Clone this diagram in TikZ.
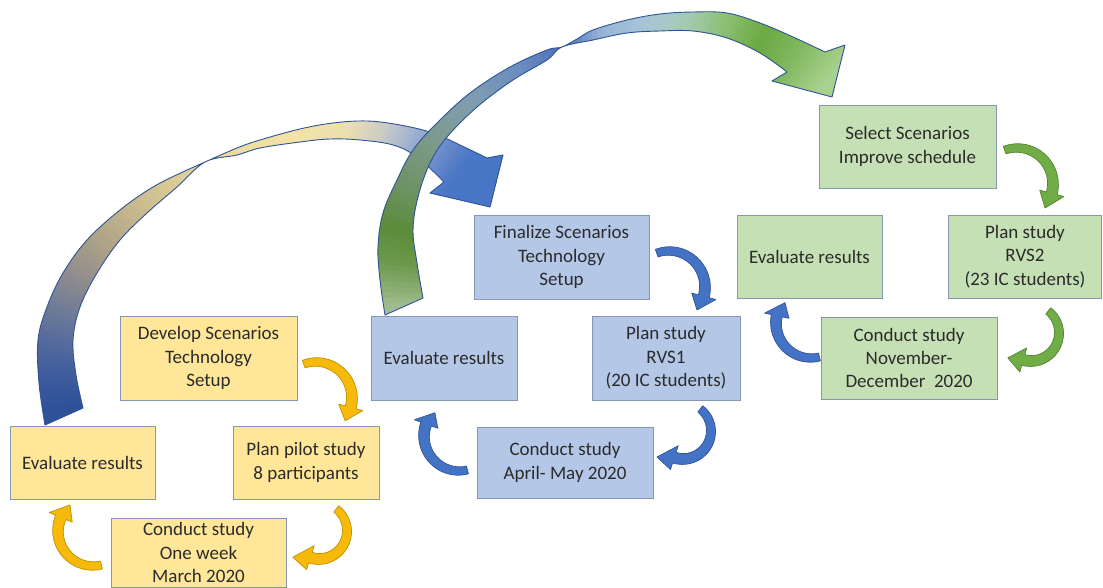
\documentclass[tikz,border=0pt]{standalone}
\usepackage{fontspec}
\setmainfont{Carlito}
\definecolor{yfill}{HTML}{FFE699}
\definecolor{bfill}{HTML}{B4C7E7}
\definecolor{gfill}{HTML}{C5E0B4}
\definecolor{boxline}{HTML}{8497B0}
\definecolor{txt}{HTML}{2B2B2B}
\definecolor{bigline}{HTML}{2F5597}
\definecolor{gold}{HTML}{F7BA0B}
\definecolor{goldd}{HTML}{BF9000}
\definecolor{blu}{HTML}{4472C4}
\definecolor{blud}{HTML}{2F5597}
\definecolor{grn}{HTML}{70AD47}
\definecolor{grnd}{HTML}{548235}
% yellow-blue big arrow stops
\definecolor{yA}{HTML}{2C4C94}\definecolor{yB}{HTML}{2F519A}\definecolor{yC}{HTML}{45609E}
\definecolor{yD}{HTML}{66769A}\definecolor{yE}{HTML}{8C8B8E}\definecolor{yF}{HTML}{ACA187}
\definecolor{yG}{HTML}{C8BA8E}\definecolor{yH}{HTML}{DFCF98}\definecolor{yI}{HTML}{EDDC9F}
\definecolor{yJ}{HTML}{F3E3A6}\definecolor{yK}{HTML}{ECE0B0}\definecolor{yL}{HTML}{CBCBC6}
\definecolor{yM}{HTML}{9FB1D0}\definecolor{yN}{HTML}{6F8FCB}\definecolor{yO}{HTML}{4A76C6}
\definecolor{yP}{HTML}{4472C4}
% green big arrow stops
\definecolor{gA}{HTML}{A9C29B}\definecolor{gB}{HTML}{A3BE92}\definecolor{gC}{HTML}{6E9A4E}
\definecolor{gD}{HTML}{5B8C3A}\definecolor{gE}{HTML}{6E9366}\definecolor{gF}{HTML}{7D9A8E}
\definecolor{gG}{HTML}{7F9DB0}\definecolor{gH}{HTML}{6A8CC0}\definecolor{gI}{HTML}{4E6FB5}
\definecolor{gJ}{HTML}{98B5D8}\definecolor{gK}{HTML}{A9C6D6}\definecolor{gL}{HTML}{A3CBB0}
\definecolor{gM}{HTML}{88BD6C}\definecolor{gN}{HTML}{6CA943}\definecolor{gO}{HTML}{7FB85E}
\definecolor{gP}{HTML}{A6CF8C}\definecolor{gQ}{HTML}{BEDCA6}

% gradient wedges around a centre: cx, cy, angle1, angle2, colour1, colour2
\newcommand\gw[6]{%
  \foreach \k in {0,...,7}{%
    \pgfmathsetmacro\wa{#3+(#4-#3)*\k/8}%
    \pgfmathsetmacro\wb{#3+(#4-#3)*(\k+1)/8+0.5}%
    \pgfmathtruncatemacro\wp{(\k+0.5)*12.5}%
    \fill[#6!\wp!#5, shift={(#1,#2)}] (0,0) -- (\wa:520) -- (\wb:520) -- cycle;%
  }%
}
% small curved block arrow: style, cx, cy, r, a1 (tail), a2 (head base), tip angle, tip radius
\newcommand\blockarc[8]{%
  \path[#1] plot[domain=#5:#6, samples=30, variable=\t]
     ({#2+(#4+4+1.6*(\t-(#5))/(#6-(#5)))*cos(\t)}, {#3+(#4+4+1.6*(\t-(#5))/(#6-(#5)))*sin(\t)})
   -- ({#2+(#4+12.5)*cos(#6)}, {#3+(#4+12.5)*sin(#6)})
   -- ({#2+#8*cos(#7)}, {#3+#8*sin(#7)})
   -- ({#2+(#4-12.5)*cos(#6)}, {#3+(#4-12.5)*sin(#6)})
   -- plot[domain=#6:#5, samples=30, variable=\t]
     ({#2+(#4-4-1.6*(\t-(#5))/(#6-(#5)))*cos(\t)}, {#3+(#4-4-1.6*(\t-(#5))/(#6-(#5)))*sin(\t)})
   -- cycle;%
}
\newcommand\ypath{(45,425) -- plot[smooth,tension=0.6] coordinates {(45,425) (39,383) (38,340) (47,307) (63,273) (87,240) (120,210) (153,187) (187,170) (205,162) (237,148) (260,140) (300,129) (333,123) (367,121) (400,125) (433,133) (462,146) (487,158)} -- (503,155) -- (490,207) -- (430,193) -- (444,182) -- plot[smooth,tension=0.6] coordinates {(444,182) (417,157) (393,145) (360,140) (330,139) (300,142) (260,148) (237,155) (205,162) (177,187) (147,213) (120,240) (97,273) (80,307) (73,340) (76,375) (83,408)} -- cycle}
\newcommand\gpath{(385,315) -- plot[smooth,tension=0.6] coordinates {(385,315) (380,280) (378,247) (383,213) (397,180) (413,150) (437,123) (470,93) (510,67) (547,50) (562,47) (577,39) (593,30) (627,20) (660,14) (693,12) (727,13) (760,23) (793,37) (825,52)} -- (845,45) -- (832,97) -- (772,81) -- (787,72) -- plot[smooth,tension=0.6] coordinates {(787,72) (760,53) (727,38) (693,31) (660,31) (627,33) (593,40) (562,47) (547,60) (513,80) (477,107) (447,137) (430,163) (418,197) (413,230) (417,263) (423,298)} -- cycle}

\tikzset{
  box/.style={draw=boxline, line width=0.9pt, text=txt, align=center, inner sep=0pt,
    font=\fontsize{19}{23.3}\selectfont},
  ybox/.style={box, fill=yfill},
  bbox/.style={box, fill=bfill},
  gbox/.style={box, fill=gfill},
  sarrY/.style={fill=gold, draw=goldd, line width=0.7pt, line join=round},
  sarrB/.style={fill=blu, draw=blud, line width=0.7pt, line join=round},
  sarrG/.style={fill=grn, draw=grnd, line width=0.7pt, line join=round},
  bigedge/.style={draw=bigline, line width=0.9pt, line join=round},
}

\begin{document}
\begin{tikzpicture}[x=1pt, y=-1pt]
\useasboundingbox[fill=white] (0,0) rectangle (1103,588);

% ---------- boxes ----------
\node[ybox, minimum width=177pt, minimum height=84pt] (dev) at (208.5,358) {Develop Scenarios\\Technology\\Setup};
\node[ybox, minimum width=145pt, minimum height=73pt] (evY) at (82.5,462.5) {Evaluate results};
\node[ybox, minimum width=146pt, minimum height=73pt] (planP) at (306,462.5) {Plan pilot study\\8 participants};
\node[ybox, minimum width=175pt, minimum height=69pt] (condY) at (198.5,552.5) {Conduct study\\One week\\March 2020};

\node[bbox, minimum width=175pt, minimum height=84pt] (fin) at (561.5,257) {Finalize Scenarios\\Technology\\Setup};
\node[bbox, minimum width=146pt, minimum height=84pt] (evB) at (444,358) {Evaluate results};
\node[bbox, minimum width=148pt, minimum height=84pt] (rvs1) at (666,358) {Plan study\\RVS1\\(20 IC students)};
\node[bbox, minimum width=176pt, minimum height=71pt] (condB) at (565,462.5) {Conduct study\\April- May 2020};

\node[gbox, minimum width=177pt, minimum height=83pt] (sel) at (907.5,146.5) {Select Scenarios\\Improve schedule};
\node[gbox, minimum width=145pt, minimum height=83pt] (evG) at (809.5,256.5) {Evaluate results};
\node[gbox, minimum width=153pt, minimum height=83pt] (rvs2) at (1025,256.5) {Plan study\\RVS2\\(23 IC students)};
\node[gbox, minimum width=176pt, minimum height=82pt] (condG) at (909,358) {Conduct study\\November-\\December~ 2020};

% ---------- big arrow: yellow cycle -> blue cycle ----------
\begin{scope}
  \clip \ypath;
  \gw{300}{390}{150}{176}{yA}{yB}
  \gw{300}{390}{176}{186}{yB}{yC}
  \gw{300}{390}{186}{196}{yC}{yD}
  \gw{300}{390}{196}{206}{yD}{yE}
  \gw{300}{390}{206}{216}{yE}{yF}
  \gw{300}{390}{216}{228}{yF}{yG}
  \gw{300}{390}{228}{242}{yG}{yH}
  \gw{300}{390}{242}{255}{yH}{yI}
  \gw{300}{390}{255}{268}{yI}{yJ}
  \gw{300}{390}{268}{280}{yJ}{yK}
  \gw{300}{390}{280}{288}{yK}{yL}
  \gw{300}{390}{288}{294}{yL}{yM}
  \gw{300}{390}{294}{300}{yM}{yN}
  \gw{300}{390}{300}{306}{yN}{yO}
  \gw{300}{390}{306}{335}{yO}{yP}
\end{scope}
\path[bigedge] \ypath;

% ---------- big arrow: blue cycle -> green cycle ----------
\begin{scope}
  \clip \gpath;
  \gw{640}{300}{160}{178}{gA}{gB}
  \gw{640}{300}{178}{188}{gB}{gC}
  \gw{640}{300}{188}{196}{gC}{gD}
  \gw{640}{300}{196}{206}{gD}{gE}
  \gw{640}{300}{206}{218}{gE}{gF}
  \gw{640}{300}{218}{230}{gF}{gG}
  \gw{640}{300}{230}{243}{gG}{gH}
  \gw{640}{300}{243}{253}{gH}{gI}
  \gw{640}{300}{253}{262}{gI}{gJ}
  \gw{640}{300}{262}{272}{gJ}{gK}
  \gw{640}{300}{272}{280}{gK}{gL}
  \gw{640}{300}{280}{288}{gL}{gM}
  \gw{640}{300}{288}{295}{gM}{gN}
  \gw{640}{300}{295}{302}{gN}{gO}
  \gw{640}{300}{302}{310}{gO}{gP}
  \gw{640}{300}{310}{330}{gP}{gQ}
\end{scope}
\path[bigedge] \gpath;

% ---------- small curved arrows ----------
% yellow cycle
\blockarc{sarrY}{316}{398}{36}{-110}{15}{38}{37}
\blockarc{sarrY}{319}{531}{28}{-52}{108}{135}{37}
\blockarc{sarrY}{93}{531}{35}{76}{203}{228.5}{34.7}
% blue cycle
\blockarc{sarrB}{669}{287}{36}{-110}{15}{39.4}{36.2}
\blockarc{sarrB}{683}{431}{28}{-52}{108}{135}{36.8}
\blockarc{sarrB}{459}{436}{35}{76}{200}{224}{33.5}
% green cycle
\blockarc{sarrG}{1017}{184}{36}{-110}{15}{40.6}{36.9}
\blockarc{sarrG}{1031}{333}{28}{-52}{106}{133}{34}
\blockarc{sarrB}{811}{323}{35}{76}{192}{218}{33}
\end{tikzpicture}
\end{document}
